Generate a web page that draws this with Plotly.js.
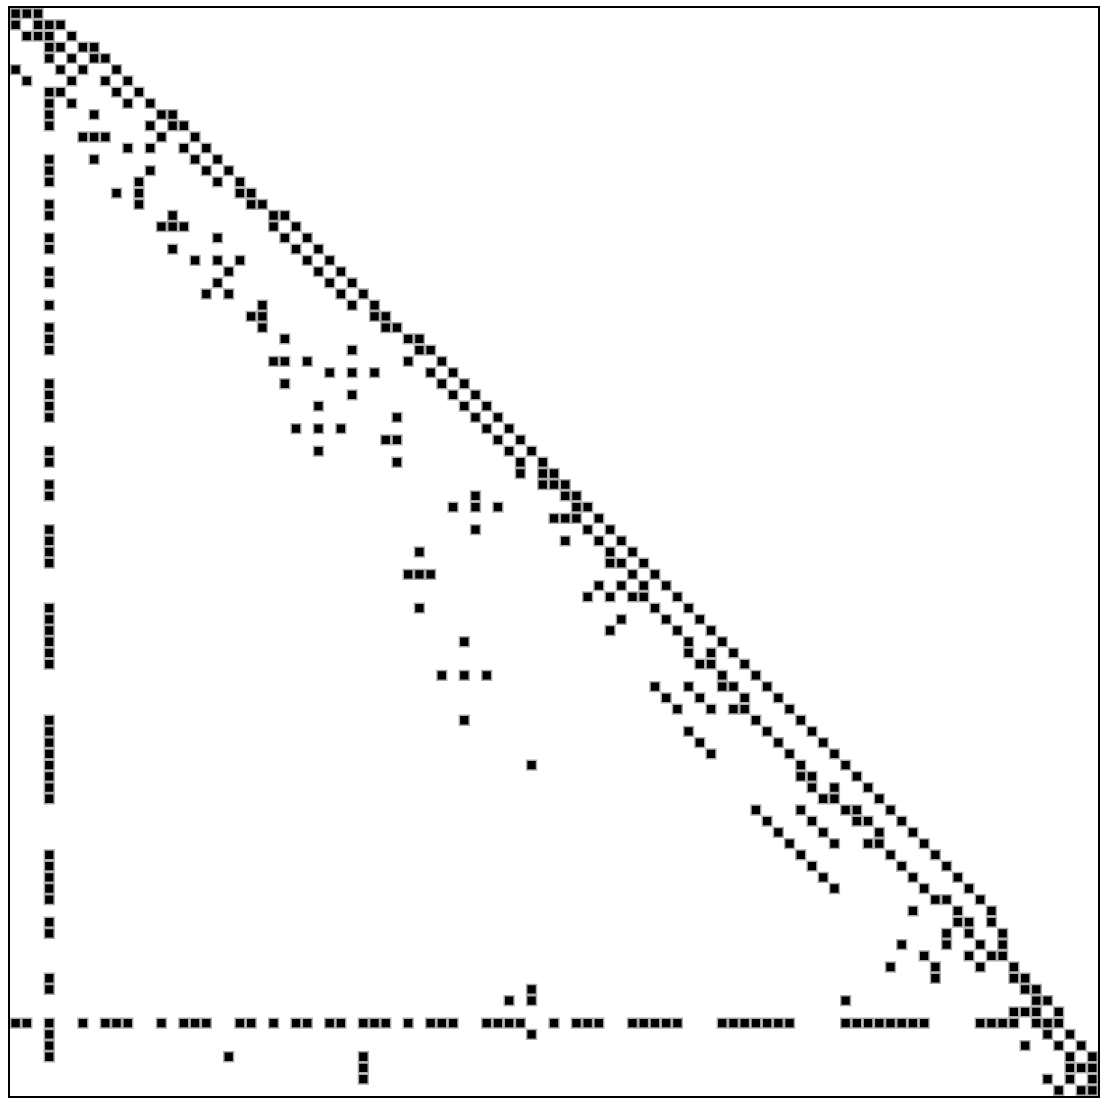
<!DOCTYPE html>
<html>
<head>
<meta charset="utf-8">
<script src="https://cdn.plot.ly/plotly-3.0.1.min.js"></script>
<style>
  html, body { margin: 0; padding: 0; background: #ffffff; }
  #chart { width: 1104px; height: 1106px; }
</style>
</head>
<body>
<div id="chart"></div>
<script>
// Matrix dimension (rows = columns)
const matrixSize = 97;

// Column indices of the nonzero entries, listed row by row
const nonzeroColsRows0to24 = [
  [0,1,2],
  [0,2,3,4],
  [1,2,3,5],
  [3,4,6,7],
  [3,5,7,8],
  [0,4,6,9],
  [1,5,8,10],
  [3,4,9,11],
  [3,5,10,12],
  [3,7,13,14],
  [3,12,14,15],
  [6,7,8,13,16],
  [10,12,15,17],
  [3,7,16,18],
  [3,12,17,19],
  [3,11,18,20],
  [9,11,20,21],
  [3,11,21,22],
  [3,14,23,24],
  [13,14,15,23,25],
  [3,18,24,26],
  [3,14,25,27],
  [16,18,20,26,28],
  [3,19,27,29],
  [3,18,28,30]
];

const nonzeroColsRows25to48 = [
  [17,19,29,31],
  [3,22,30,32],
  [21,22,32,33],
  [3,22,33,34],
  [3,24,35,36],
  [3,30,36,37],
  [23,24,26,35,38],
  [28,30,32,37,39],
  [3,24,38,40],
  [3,30,39,41],
  [3,27,40,42],
  [3,34,41,43],
  [25,27,29,42,44],
  [33,34,43,45],
  [3,27,44,46],
  [3,34,45,47],
  [45,47,48],
  [3,47,48,49],
  [3,41,49,50],
  [39,41,43,50,51],
  [48,49,50,52],
  [3,41,51,53],
  [3,49,52,54],
  [3,36,53,55]
];

const nonzeroColsRows49to72 = [
  [3,53,54,56],
  [35,36,37,55,57],
  [52,54,56,58],
  [51,53,55,56,59],
  [3,36,57,60],
  [3,54,58,61],
  [3,53,59,62],
  [3,40,60,63],
  [3,60,62,64],
  [3,61,62,65],
  [38,40,42,63,66],
  [57,60,63,64,67],
  [58,61,65,68],
  [59,62,64,65,69],
  [3,40,66,70],
  [3,60,67,71],
  [3,61,68,72],
  [3,62,69,73],
  [3,46,70,74],
  [3,70,71,75],
  [3,71,73,76],
  [3,72,73,77],
  [66,70,74,75,78],
  [67,71,75,76,79]
];

const nonzeroColsRows73to96 = [
  [68,72,77,80],
  [69,73,76,77,81],
  [3,70,78,82],
  [3,71,79,83],
  [3,72,80,84],
  [3,73,81,85],
  [3,82,83,86],
  [80,84,87],
  [3,84,85,87],
  [3,83,85,88],
  [79,83,86,88],
  [81,85,87,88],
  [78,82,86,89],
  [3,82,89,90],
  [3,46,90,91],
  [44,46,74,91,92],
  [89,90,91,93],
  [0,1,3,6,8,9,10,13,15,16,17,20,21,23,25,26,28,29,31,32,33,35,37,38,39,
   42,43,44,45,48,50,51,52,55,56,57,58,59,63,64,65,66,67,68,69,
   74,75,76,77,78,79,80,81,86,87,88,89,91,92,93],
  [3,46,92,94],
  [3,90,93,95],
  [3,19,31,94,96],
  [31,94,95,96],
  [31,92,94,96],
  [93,95,96]
];

const allRows = [].concat(nonzeroColsRows0to24, nonzeroColsRows25to48,
                          nonzeroColsRows49to72, nonzeroColsRows73to96);
const xs = [], ys = [];
allRows.forEach((cols, r) => {
  cols.forEach(c => { xs.push(c); ys.push(r); });
});

const trace = {
  type: 'scatter',
  mode: 'markers',
  x: xs,
  y: ys,
  hoverinfo: 'skip',
  cliponaxis: true,
  marker: {
    symbol: 'square',
    size: 9.8,
    color: '#000000',
    line: { color: 'rgb(170,170,170)', width: 1.5 }
  }
};

const axisCommon = {
  showgrid: false,
  zeroline: false,
  showticklabels: false,
  ticks: '',
  showline: true,
  mirror: true,
  linecolor: '#000000',
  linewidth: 2
};

const layout = {
  width: 1104,
  height: 1106,
  margin: { l: 10, r: 6, t: 8, b: 10, pad: 0 },
  paper_bgcolor: '#ffffff',
  plot_bgcolor: '#ffffff',
  showlegend: false,
  hovermode: false,
  xaxis: Object.assign({}, axisCommon, { range: [-0.5, matrixSize - 0.5] }),
  yaxis: Object.assign({}, axisCommon, { range: [matrixSize - 0.5, -0.5] })
};

Plotly.newPlot('chart', [trace], layout, { displayModeBar: false, staticPlot: true });
</script>
</body>
</html>
